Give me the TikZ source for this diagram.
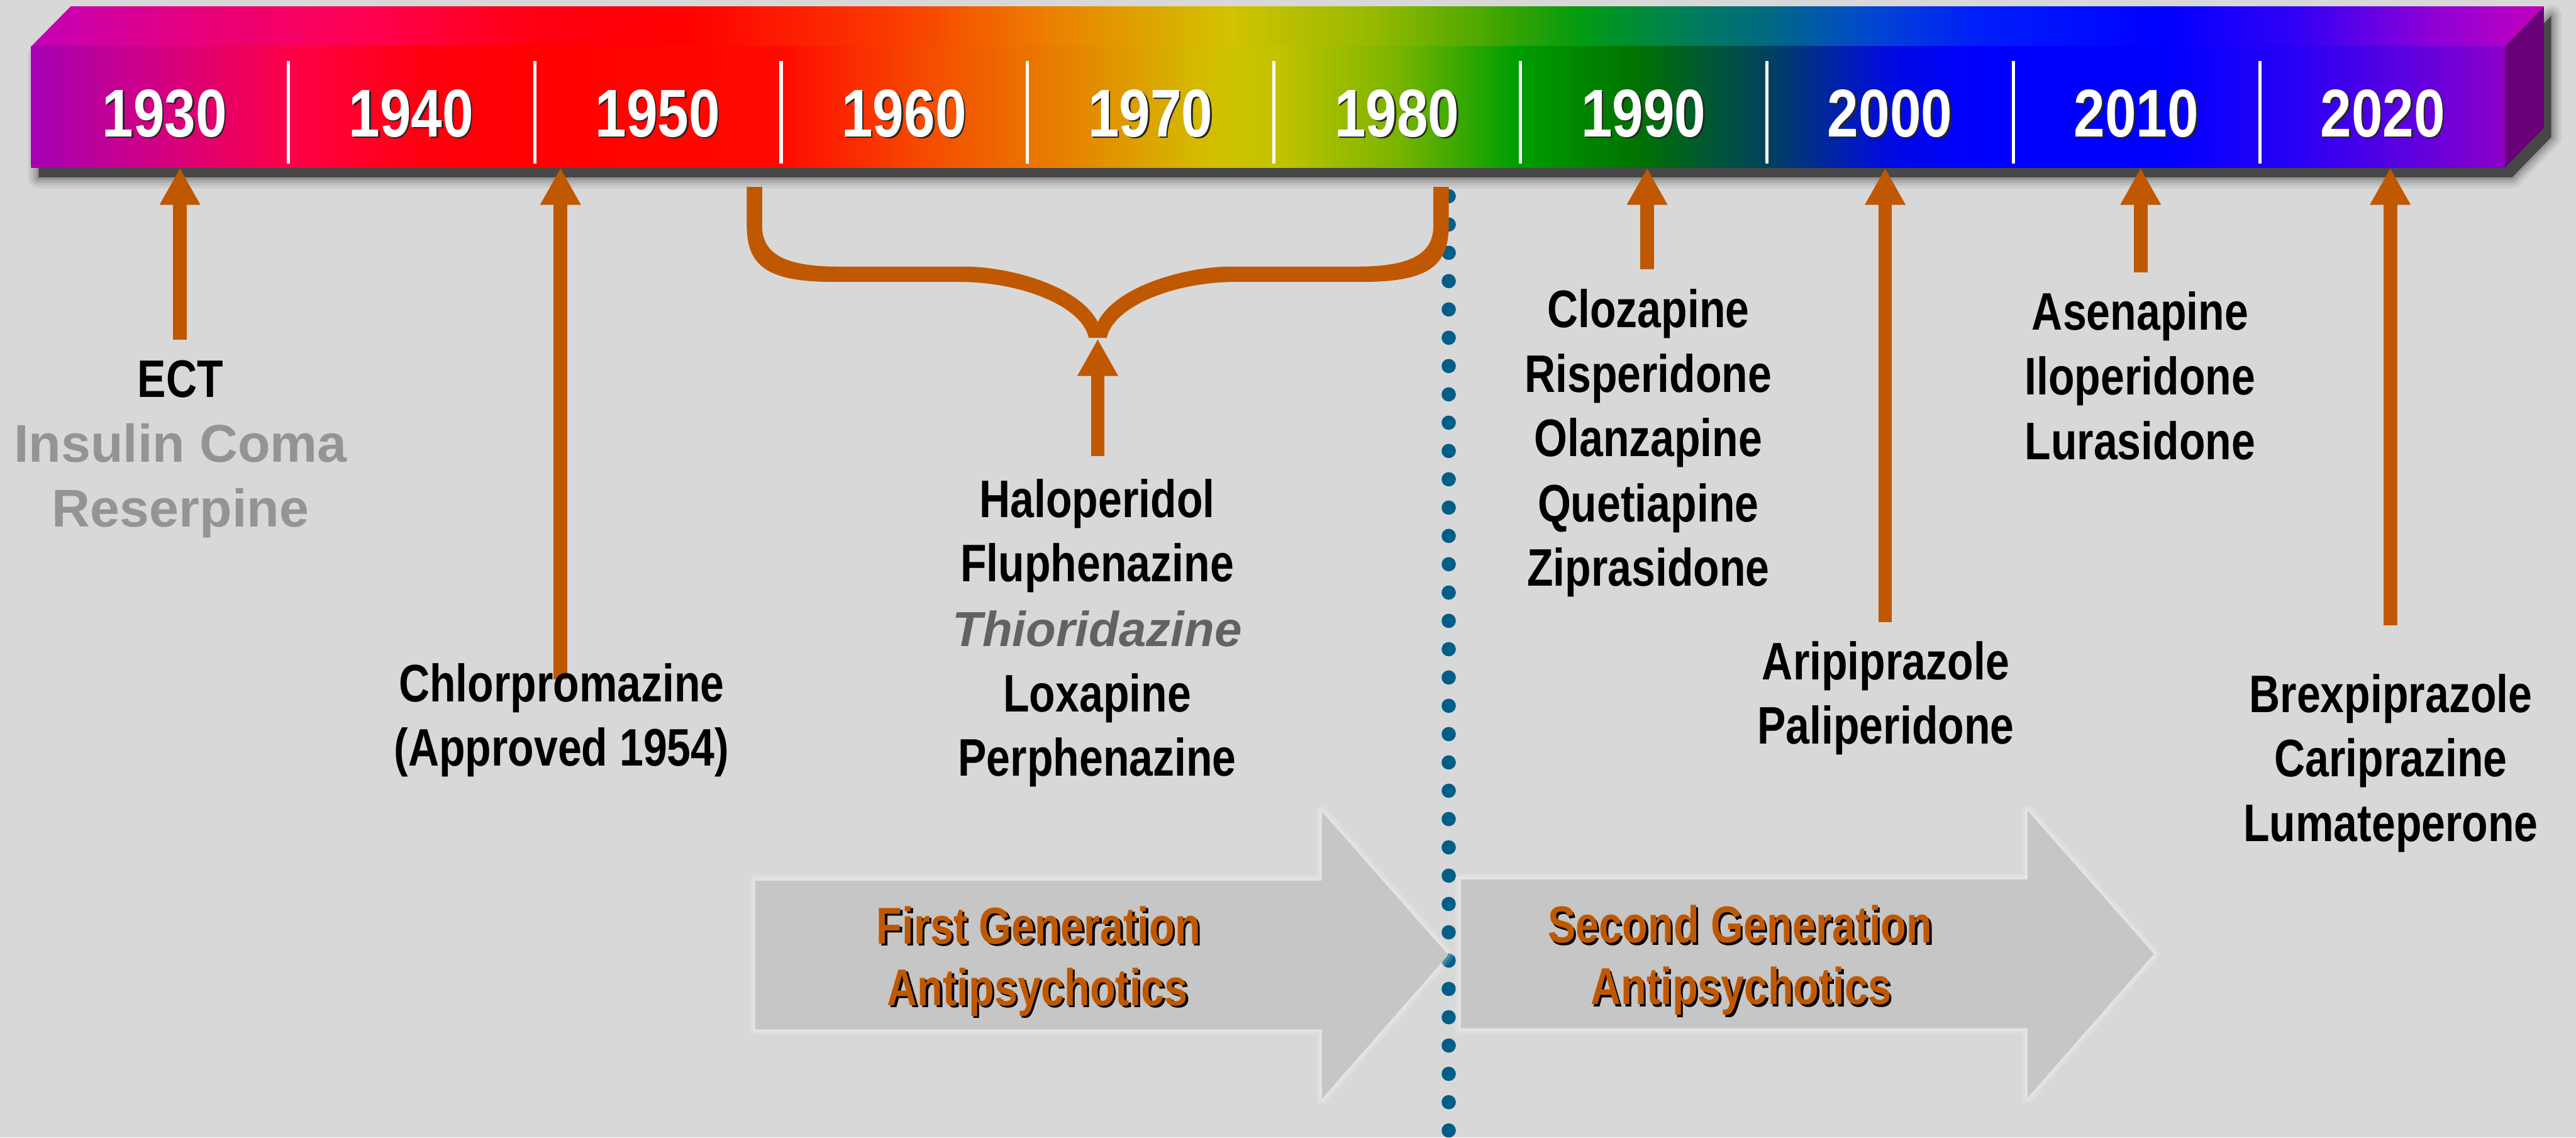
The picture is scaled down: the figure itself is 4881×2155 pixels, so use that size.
\documentclass[tikz,border=0pt]{standalone}
\usepackage{fontspec}
\setmainfont{Liberation Sans}
\newfontfamily\condfont{Liberation Sans}[FakeStretch=0.81]
\newfontfamily\yrfont{Liberation Sans}[FakeStretch=0.83]
\usetikzlibrary{arrows.meta}
\definecolor{bg}{RGB}{216,216,216}
\definecolor{arrorange}{RGB}{191,88,0}
\definecolor{dotblue}{RGB}{0,94,135}
\definecolor{blockgray}{RGB}{198,198,198}
\definecolor{lightgraytext}{RGB}{148,148,148}
\definecolor{midgraytext}{RGB}{98,98,98}
\definecolor{sidepurple}{RGB}{105,0,120}
% front face colours
\definecolor{f0}{RGB}{165,0,180}
\definecolor{f1}{RGB}{210,0,130}
\definecolor{f2}{RGB}{255,0,70}
\definecolor{f3}{RGB}{255,0,15}
\definecolor{f4}{RGB}{255,0,0}
\definecolor{f5}{RGB}{255,10,0}
\definecolor{f6}{RGB}{245,75,0}
\definecolor{f7}{RGB}{232,125,0}
\definecolor{f8}{RGB}{210,192,0}
\definecolor{f9}{RGB}{195,195,0}
\definecolor{f10}{RGB}{120,180,0}
\definecolor{f11}{RGB}{0,158,0}
\definecolor{f12}{RGB}{0,115,0}
\definecolor{f13}{RGB}{0,65,95}
\definecolor{f14}{RGB}{0,10,225}
\definecolor{f15}{RGB}{0,0,255}
\definecolor{f16}{RGB}{0,0,255}
\definecolor{f17}{RGB}{40,0,245}
\definecolor{f18}{RGB}{90,0,225}
\definecolor{f19}{RGB}{140,0,200}
% top face colours
\definecolor{t0}{RGB}{195,0,185}
\definecolor{t1}{RGB}{235,0,120}
\definecolor{t2}{RGB}{255,0,80}
\definecolor{t3}{RGB}{255,0,20}
\definecolor{t4}{RGB}{255,0,0}
\definecolor{t5}{RGB}{250,60,0}
\definecolor{t6}{RGB}{235,130,0}
\definecolor{t7}{RGB}{210,195,0}
\definecolor{t8}{RGB}{150,185,0}
\definecolor{t9}{RGB}{60,165,0}
\definecolor{t10}{RGB}{0,155,20}
\definecolor{t11}{RGB}{0,125,90}
\definecolor{t12}{RGB}{0,105,130}
\definecolor{t13}{RGB}{0,70,210}
\definecolor{t14}{RGB}{0,30,250}
\definecolor{t15}{RGB}{0,0,255}
\definecolor{t16}{RGB}{50,0,245}
\definecolor{t17}{RGB}{140,0,215}
\definecolor{t18}{RGB}{195,0,190}
\pgfdeclarehorizontalshading{frontspec}{100bp}{color(0bp)=(f0); color(25bp)=(f0);
 color(27.57bp)=(f1); color(30.34bp)=(f2); color(32.90bp)=(f3); color(35.04bp)=(f4);
 color(40.16bp)=(f5); color(43.04bp)=(f6); color(45.71bp)=(f7); color(48.91bp)=(f8);
 color(50.19bp)=(f9); color(52.64bp)=(f10); color(54.99bp)=(f11); color(57.44bp)=(f12);
 color(60.11bp)=(f13); color(62.56bp)=(f14); color(64.37bp)=(f15); color(68.11bp)=(f16);
 color(70.77bp)=(f17); color(72.91bp)=(f18); color(75bp)=(f19); color(100bp)=(f19)}
\pgfdeclarehorizontalshading{topspec}{100bp}{color(0bp)=(t0); color(25bp)=(t0);
 color(28.58bp)=(t1); color(31.73bp)=(t2); color(34.88bp)=(t3); color(38.03bp)=(t4);
 color(42.23bp)=(t5); color(45.38bp)=(t6); color(48.85bp)=(t7); color(51.69bp)=(t8);
 color(54.31bp)=(t9); color(55.89bp)=(t10); color(57.99bp)=(t11); color(59.56bp)=(t12);
 color(61.66bp)=(t13); color(63.76bp)=(t14); color(67.44bp)=(t15); color(70.06bp)=(t16);
 color(72.69bp)=(t17); color(75bp)=(t18); color(100bp)=(t18)}
\tikzset{
  drug/.style={inner sep=0pt, anchor=base, text=black,
    font=\condfont\bfseries\fontsize{28.45pt}{34pt}\selectfont},
  oldtx/.style={inner sep=0pt, anchor=base, text=lightgraytext,
    font=\bfseries\fontsize{28.6pt}{34pt}\selectfont},
  thio/.style={inner sep=0pt, anchor=base, text=midgraytext,
    font=\bfseries\itshape\fontsize{26.5pt}{32pt}\selectfont},
  yr/.style={inner sep=0pt, anchor=base, text=white,
    font=\yrfont\bfseries\fontsize{36.4pt}{40pt}\selectfont},
  yrsh/.style={yr, text=black!85},
  gen/.style={inner sep=0pt, anchor=base, text=arrorange,
    font=\condfont\bfseries\fontsize{27.9pt}{34pt}\selectfont},
  gensh/.style={gen, text=black},
  tlarrow/.style={draw=arrorange, line width=0.26cm,
    -{Triangle[length=0.7cm,width=0.72cm]}},
  blockglowA/.style={draw=white, opacity=0.14, line width=0.22cm, line join=round},
  blockglowB/.style={draw=white, opacity=0.18, line width=0.11cm, line join=round},
  divider/.style={draw=white, line width=0.06cm},
  dotline/.style={draw=dotblue, line width=0.27cm, line cap=round,
    dash pattern=on 0pt off 0.536cm}
}
\begin{document}
\begin{tikzpicture}[x=0.01cm, y=-0.01cm]
\useasboundingbox (0,0) rectangle (4881,2155);
\fill[bg] (0,0) rectangle (4881,2155);

% dotted separator
\coordinate (dtop) at (2745,318);
\coordinate (dbot) at (2745,2180);
\draw[dotline] (dtop) -- (dbot);

% block arrows
\foreach \st in {blockglowA,blockglowB}{
  \draw[\st] (1431,1668) -- (2505,1668) -- (2505,1538) -- (2744,1809) -- (2505,2081) -- (2505,1950) -- (1431,1950) -- cycle;
  \draw[\st] (2768,1666) -- (3842,1666) -- (3842,1536) -- (4081,1807) -- (3842,2079) -- (3842,1948) -- (2768,1948) -- cycle;
}
\fill[blockgray] (1431,1668) -- (2505,1668) -- (2505,1538) -- (2744,1809) -- (2505,2081) -- (2505,1950) -- (1431,1950) -- cycle;
\fill[blockgray] (2768,1666) -- (3842,1666) -- (3842,1536) -- (4081,1807) -- (3842,2079) -- (3842,1948) -- (2768,1948) -- cycle;

\node[gensh] (fg1s) at (1972,1792) {First Generation};
\node[gen] (fg1) at (1968,1788) {First Generation};
\node[gensh] (fg2s) at (1970,1909) {Antipsychotics};
\node[gen] (fg2) at (1966,1905) {Antipsychotics};
\node[gensh] (sg1s) at (3301,1790) {Second Generation};
\node[gen] (sg1) at (3297,1786) {Second Generation};
\node[gensh] (sg2s) at (3303,1907) {Antipsychotics};
\node[gen] (sg2) at (3299,1903) {Antipsychotics};

% bar shadow
\foreach \w/\o in {0.40cm/0.05,0.30cm/0.07,0.20cm/0.09,0.10cm/0.12}{
  \draw[black, opacity=\o, line width=\w, line join=round]
    (73,106) -- (4760,106) -- (4834,30) -- (4834,260) -- (4760,336) -- (73,336) -- cycle;
}
\fill[black!72] (73,106) -- (4760,106) -- (4834,30) -- (4834,260) -- (4760,336) -- (73,336) -- cycle;

% bar
\shade[shading=topspec] (59,88) -- (134,12) -- (4820,12) -- (4746,88) -- cycle;
\fill[sidepurple] (4746,88) -- (4820,12) -- (4820,242) -- (4746,318) -- cycle;
\shade[shading=frontspec] (59,88) rectangle (4746,318);
\coordinate (barSW) at (59,318);
\foreach \i in {0,...,8}{
  \draw[divider] ({546+\i*467},115) -- ({546+\i*467},310);
}
\foreach \yr [count=\i from 0] in {1930,1940,...,2020}{
  \node[yrsh] (yrs\yr) at ({315+\i*467},262) {\yr};
  \node[yr] (yr\yr) at ({312+\i*467},259) {\yr};
}

% brace
\begin{scope}[shift={(2080,0)}]
\foreach \s in {1,-1}{
  \fill[arrorange, xscale=\s] (-665,354) -- (-665,427)
    .. controls (-665,505) and (-625,534) .. (-500,534) -- (-262,534)
    .. controls (-145,534) and (-30,580) .. (-17,640) -- (0.5,640) -- (0.5,611)
    .. controls (-35,540) and (-170,505) .. (-252,505) -- (-491,505)
    .. controls (-595,505) and (-636,480) .. (-636,427) -- (-636,354) -- cycle;
}
\end{scope}
\coordinate (braceTip) at (2080,642);

% arrows
\coordinate (aECT) at (341,643);
\coordinate (aChl) at (1062,1287);
\coordinate (aHal) at (2080,864);
\coordinate (aClo) at (3121,510);
\coordinate (aAri) at (3572,1178);
\coordinate (aAse) at (4056,516);
\coordinate (aBre) at (4529,1184);
\draw[tlarrow] (aECT) -- (aECT |- barSW);
\draw[tlarrow] (aChl) -- (aChl |- barSW);
\draw[tlarrow] (aHal) -- (braceTip);
\draw[tlarrow] (aClo) -- (aClo |- barSW);
\draw[tlarrow] (aAri) -- (aAri |- barSW);
\draw[tlarrow] (aAse) -- (aAse |- barSW);
\draw[tlarrow] (aBre) -- (aBre |- barSW);

% texts
\node[drug] (ect) at (342,752) {ECT};
\node[oldtx] (ins) at (342,875) {Insulin Coma};
\node[oldtx] (res) at (342,998) {Reserpine};

\node[drug] (chl) at (1064,1329) {Chlorpromazine};
\node[drug] (appr) at (1064,1451) {(Approved 1954)};

\node[drug] (hal) at (2079,980) {Haloperidol};
\node[drug] (flu) at (2079,1102) {Fluphenazine};
\node[thio] (thi) at (2079,1225) {Thioridazine};
\node[drug] (lox) at (2079,1348) {Loxapine};
\node[drug] (per) at (2079,1470) {Perphenazine};

\node[drug] (clo) at (3123,620) {Clozapine};
\node[drug] (ris) at (3123,743) {Risperidone};
\node[drug] (ola) at (3123,865) {Olanzapine};
\node[drug] (que) at (3123,988) {Quetiapine};
\node[drug] (zip) at (3123,1110) {Ziprasidone};

\node[drug] (ari) at (3573,1287) {Aripiprazole};
\node[drug] (pal) at (3573,1409) {Paliperidone};

\node[drug] (ase) at (4055,625) {Asenapine};
\node[drug] (ilo) at (4055,748) {Iloperidone};
\node[drug] (lur) at (4055,870) {Lurasidone};

\node[drug] (bre) at (4530,1349) {Brexpiprazole};
\node[drug] (car) at (4530,1471) {Cariprazine};
\node[drug] (lum) at (4530,1594) {Lumateperone};
\end{tikzpicture}
\end{document}
